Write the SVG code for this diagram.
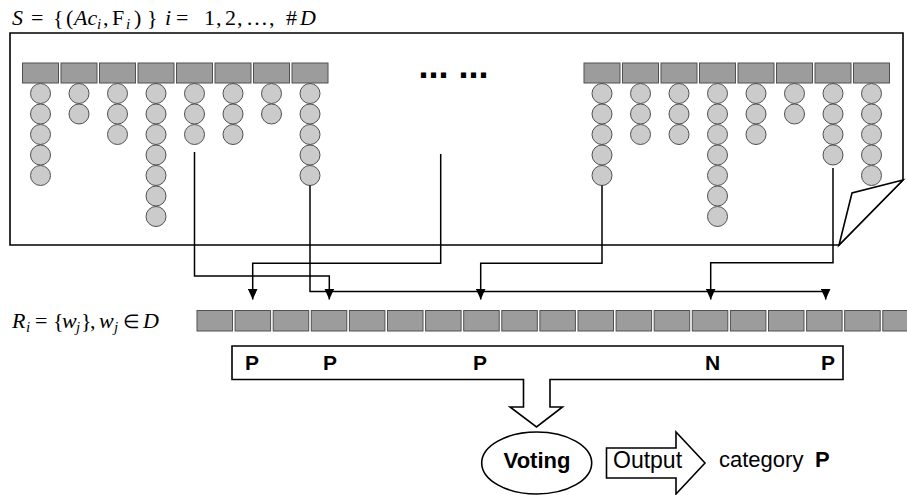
<svg xmlns="http://www.w3.org/2000/svg" width="907" height="495" viewBox="0 0 907 495">
<style>
.sq{fill:#9c9c9c;stroke:#505050;stroke-width:1}
.ci{fill:#cbcbcb;stroke:#505050;stroke-width:1}
.ln{fill:none;stroke:#000;stroke-width:1.5}
.box{fill:#fff;stroke:#000;stroke-width:1.6}
.math{font-family:"Liberation Serif",serif;font-size:22px;fill:#000}
.it{font-style:italic}
.sub{font-style:italic;font-size:15px}
.lbl{font-family:"Liberation Sans",Arial,sans-serif;fill:#000}
.b{font-weight:bold}
</style>
<defs>
<marker id="ah" markerWidth="10" markerHeight="11" refX="5" refY="11" orient="0" markerUnits="userSpaceOnUse">
<path d="M0,0 L10,0 L5,11 Z" fill="#000"/>
</marker>
</defs>
<rect width="907" height="495" fill="#fff"/>

<g id="title">
<text class="math" y="25"><tspan class="it" x="12">S</tspan><tspan x="31">=</tspan><tspan x="53">{</tspan><tspan x="66">(</tspan><tspan class="it" x="74">Ac</tspan><tspan class="sub" x="97" dy="4">i</tspan><tspan x="103" dy="-4">,</tspan><tspan x="112">F</tspan><tspan class="sub" x="126" dy="4">i</tspan><tspan x="134" dy="-4">)</tspan><tspan x="147">}</tspan><tspan class="it" x="165">i</tspan><tspan x="176">=</tspan><tspan x="204">1</tspan><tspan x="216">,</tspan><tspan x="225">2</tspan><tspan x="237">,</tspan><tspan x="246">…</tspan><tspan x="269">,</tspan><tspan x="286">#</tspan><tspan class="it" x="300">D</tspan></text>
</g>

<g id="set-S">
<path class="box" d="M10,33 H903 V180 L839,245 H10 Z"/>
<path class="box" d="M903,180 L852,193 L839,245 Z"/>
</g>

<g id="left-columns">
<g id="L1"><rect class="sq" x="22.5" y="63" width="36" height="20"/><circle class="ci" cx="40.5" cy="93.5" r="10"/><circle class="ci" cx="40.5" cy="114" r="10"/><circle class="ci" cx="40.5" cy="134.5" r="10"/><circle class="ci" cx="40.5" cy="155" r="10"/><circle class="ci" cx="40.5" cy="175.5" r="10"/></g>
<g id="L2"><rect class="sq" x="61" y="63" width="36" height="20"/><circle class="ci" cx="79" cy="93.5" r="10"/><circle class="ci" cx="79" cy="114" r="10"/></g>
<g id="L3"><rect class="sq" x="99.5" y="63" width="36" height="20"/><circle class="ci" cx="117.5" cy="93.5" r="10"/><circle class="ci" cx="117.5" cy="114" r="10"/><circle class="ci" cx="117.5" cy="134.5" r="10"/></g>
<g id="L4"><rect class="sq" x="138" y="63" width="36" height="20"/><circle class="ci" cx="156" cy="93.5" r="10"/><circle class="ci" cx="156" cy="114" r="10"/><circle class="ci" cx="156" cy="134.5" r="10"/><circle class="ci" cx="156" cy="155" r="10"/><circle class="ci" cx="156" cy="175.5" r="10"/><circle class="ci" cx="156" cy="196" r="10"/><circle class="ci" cx="156" cy="216.5" r="10"/></g>
<g id="L5"><rect class="sq" x="176.5" y="63" width="36" height="20"/><circle class="ci" cx="194.5" cy="93.5" r="10"/><circle class="ci" cx="194.5" cy="114" r="10"/><circle class="ci" cx="194.5" cy="134.5" r="10"/></g>
<g id="L6"><rect class="sq" x="215" y="63" width="36" height="20"/><circle class="ci" cx="233" cy="93.5" r="10"/><circle class="ci" cx="233" cy="114" r="10"/><circle class="ci" cx="233" cy="134.5" r="10"/></g>
<g id="L7"><rect class="sq" x="253.5" y="63" width="36" height="20"/><circle class="ci" cx="271.5" cy="93.5" r="10"/><circle class="ci" cx="271.5" cy="114" r="10"/></g>
<g id="L8"><rect class="sq" x="292" y="63" width="36" height="20"/><circle class="ci" cx="310" cy="93.5" r="10"/><circle class="ci" cx="310" cy="114" r="10"/><circle class="ci" cx="310" cy="134.5" r="10"/><circle class="ci" cx="310" cy="155" r="10"/><circle class="ci" cx="310" cy="175.5" r="10"/></g>
</g>

<g id="ellipsis">
<text class="lbl b" x="418.5" y="77.5" font-size="36">... ...</text>
</g>

<g id="right-columns">
<g id="R1"><rect class="sq" x="584" y="63" width="36" height="20"/><circle class="ci" cx="602" cy="93.5" r="10"/><circle class="ci" cx="602" cy="114" r="10"/><circle class="ci" cx="602" cy="134.5" r="10"/><circle class="ci" cx="602" cy="155" r="10"/><circle class="ci" cx="602" cy="175.5" r="10"/></g>
<g id="R2"><rect class="sq" x="622.5" y="63" width="36" height="20"/><circle class="ci" cx="640.5" cy="93.5" r="10"/><circle class="ci" cx="640.5" cy="114" r="10"/><circle class="ci" cx="640.5" cy="134.5" r="10"/></g>
<g id="R3"><rect class="sq" x="661" y="63" width="36" height="20"/><circle class="ci" cx="679" cy="93.5" r="10"/><circle class="ci" cx="679" cy="114" r="10"/><circle class="ci" cx="679" cy="134.5" r="10"/></g>
<g id="R4"><rect class="sq" x="699.5" y="63" width="36" height="20"/><circle class="ci" cx="717.5" cy="93.5" r="10"/><circle class="ci" cx="717.5" cy="114" r="10"/><circle class="ci" cx="717.5" cy="134.5" r="10"/><circle class="ci" cx="717.5" cy="155" r="10"/><circle class="ci" cx="717.5" cy="175.5" r="10"/><circle class="ci" cx="717.5" cy="196" r="10"/><circle class="ci" cx="717.5" cy="216.5" r="10"/></g>
<g id="R5"><rect class="sq" x="738" y="63" width="36" height="20"/><circle class="ci" cx="756" cy="93.5" r="10"/><circle class="ci" cx="756" cy="114" r="10"/><circle class="ci" cx="756" cy="134.5" r="10"/></g>
<g id="R6"><rect class="sq" x="776.5" y="63" width="36" height="20"/><circle class="ci" cx="794.5" cy="93.5" r="10"/><circle class="ci" cx="794.5" cy="114" r="10"/></g>
<g id="R7"><rect class="sq" x="815" y="63" width="36" height="20"/><circle class="ci" cx="833" cy="93.5" r="10"/><circle class="ci" cx="833" cy="114" r="10"/><circle class="ci" cx="833" cy="134.5" r="10"/><circle class="ci" cx="833" cy="155" r="10"/></g>
<g id="R8"><rect class="sq" x="853.5" y="63" width="36" height="20"/><circle class="ci" cx="871.5" cy="93.5" r="10"/><circle class="ci" cx="871.5" cy="114" r="10"/><circle class="ci" cx="871.5" cy="134.5" r="10"/><circle class="ci" cx="871.5" cy="155" r="10"/><circle class="ci" cx="871.5" cy="175.5" r="10"/></g>
</g>

<g id="R-label">
<text class="math" y="328"><tspan class="it" x="12">R</tspan><tspan class="sub" x="26" dy="4">i</tspan><tspan x="35" dy="-4">=</tspan><tspan x="53">{</tspan><tspan class="it" x="62">w</tspan><tspan class="sub" x="76" dy="4">j</tspan><tspan x="81" dy="-4">}</tspan><tspan x="90">,</tspan><tspan class="it" x="99">w</tspan><tspan class="sub" x="114" dy="4">j</tspan><tspan x="123" dy="-4" font-size="19">∈</tspan><tspan class="it" x="143">D</tspan></text>
</g>

<g id="R-row">
<rect class="sq" x="197" y="310.5" width="35.5" height="20.5"/>
<rect class="sq" x="235.1" y="310.5" width="35.5" height="20.5"/>
<rect class="sq" x="273.2" y="310.5" width="35.5" height="20.5"/>
<rect class="sq" x="311.3" y="310.5" width="35.5" height="20.5"/>
<rect class="sq" x="349.4" y="310.5" width="35.5" height="20.5"/>
<rect class="sq" x="387.5" y="310.5" width="35.5" height="20.5"/>
<rect class="sq" x="425.6" y="310.5" width="35.5" height="20.5"/>
<rect class="sq" x="463.7" y="310.5" width="35.5" height="20.5"/>
<rect class="sq" x="501.8" y="310.5" width="35.5" height="20.5"/>
<rect class="sq" x="539.9" y="310.5" width="35.5" height="20.5"/>
<rect class="sq" x="578" y="310.5" width="35.5" height="20.5"/>
<rect class="sq" x="616.1" y="310.5" width="35.5" height="20.5"/>
<rect class="sq" x="654.2" y="310.5" width="35.5" height="20.5"/>
<rect class="sq" x="692.3" y="310.5" width="35.5" height="20.5"/>
<rect class="sq" x="730.4" y="310.5" width="35.5" height="20.5"/>
<rect class="sq" x="768.5" y="310.5" width="35.5" height="20.5"/>
<rect class="sq" x="806.6" y="310.5" width="35.5" height="20.5"/>
<rect class="sq" x="844.7" y="310.5" width="35.5" height="20.5"/>
<rect class="sq" x="882.8" y="310.5" width="35.5" height="20.5"/>
</g>

<g id="connectors">
<path class="ln" d="M194.5,152 V276 H329.3 V299.5" marker-end="url(#ah)"/>
<path class="ln" d="M440.7,154 V263.3 H252.7 V299.5" marker-end="url(#ah)"/>
<path class="ln" d="M310,185.5 V291.5 H825.7 V299.5" marker-end="url(#ah)"/>
<path class="ln" d="M602,185.5 V263.3 H480.7 V299.5" marker-end="url(#ah)"/>
<path class="ln" d="M833,168 V262.7 H710.7 V299.5" marker-end="url(#ah)"/>
</g>

<g id="labels-box">
<path class="box" d="M232,346 H843 V379.5 H550 V407 H562.5 L536.5,427 L510,407 H523.5 V379.5 H232 Z"/>
<text class="lbl b" font-size="21" y="370" text-anchor="middle"><tspan x="252">P</tspan><tspan x="330">P</tspan><tspan x="480">P</tspan><tspan x="712.5">N</tspan><tspan x="828">P</tspan></text>
</g>

<g id="voting">
<ellipse class="box" cx="536.7" cy="463" rx="55" ry="31"/>
<text class="lbl b" x="537" y="467.5" font-size="22" text-anchor="middle">Voting</text>
</g>

<g id="output">
<path class="box" d="M606.5,448 H676 V432 L705,463 L676,494 V478 H606.5 Z"/>
<text class="lbl" x="613" y="467.5" font-size="23">Output</text>
</g>

<g id="category">
<text class="lbl" x="719" y="467" font-size="22">category <tspan class="b" x="815">P</tspan></text>
</g>
</svg>
